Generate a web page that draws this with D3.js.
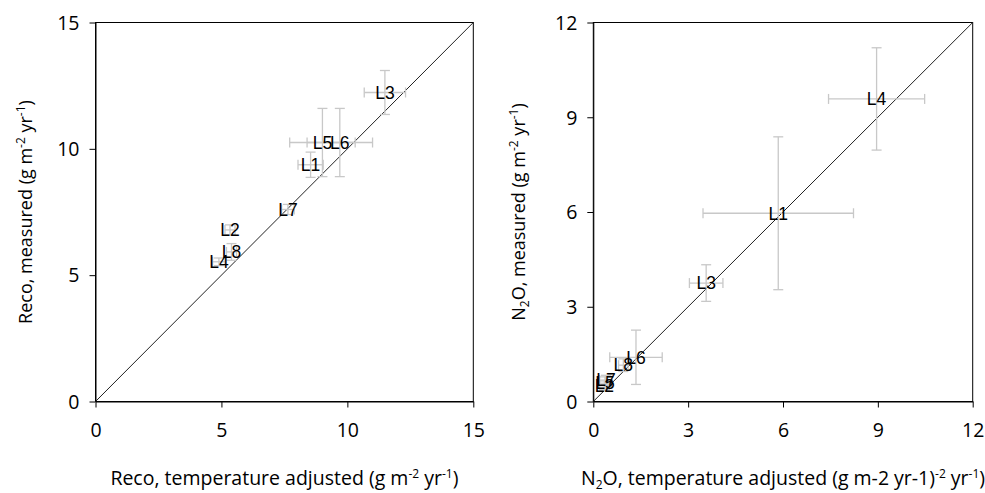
<!DOCTYPE html>
<html>
<head>
<meta charset="utf-8">
<style>
body { margin: 0; background: #fff; }
.tick text { font-family: "Open Sans", sans-serif; font-size: 19.5px; fill: #000; }
.atitle { font-family: "Open Sans", sans-serif; fill: #000; }
.site { font-family: "Liberation Sans", Arial, sans-serif; font-size: 17.5px; fill: #000; }
.err line { stroke: #c8c8c8; stroke-width: 1.3px; }
.diag { stroke: #222; stroke-width: 1px; }
</style>
</head>
<body>
<svg width="985" height="493"></svg>
<script src="https://d3js.org/d3.v7.min.js"></script>
<script>

// site labels
var sites = ["L1", "L2", "L3", "L4", "L5", "L6", "L7", "L8"];

// Reco, g m-2 yr-1
var recoAdj     = [8.54, 5.34, 11.49, 4.90, 9.01, 9.70, 7.64, 5.40];
var recoMeas    = [9.37, 6.79, 12.23, 5.53, 10.25, 10.25, 7.60, 5.92];
var recoAdjErr  = [0.50, 0.20, 0.82, 0.25, 1.30, 1.30, 0.25, 0.20];
var recoMeasErr = [0.50, 0.20, 0.87, 0.15, 1.35, 1.35, 0.20, 0.33];
var recoTicks   = [0, 5, 10, 15];

// N2O
var n2oAdj     = [5.85, 0.35, 3.57, 8.96, 0.37, 1.35, 0.40, 0.95];
var n2oMeas    = [5.96, 0.50, 3.75, 9.58, 0.58, 1.40, 0.68, 1.15];
var n2oAdjErr  = [2.38, 0.15, 0.53, 1.52, 0.20, 0.83, 0.20, 0.15];
var n2oMeasErr = [2.42, 0.15, 0.58, 1.62, 0.20, 0.86, 0.15, 0.20];
var n2oTicks   = [0, 3, 6, 9, 12];

var svg = d3.select("svg");

function panel(opt) {
  var x = d3.scaleLinear().domain([0, opt.max]).range([opt.x0, opt.x1]);
  var y = d3.scaleLinear().domain([0, opt.max]).range([opt.y0, opt.y1]);
  var g = svg.append("g");

  var rows = sites.map(function(s, i) {
    return {name: s, x: opt.xs[i], y: opt.ys[i], ex: opt.xe[i], ey: opt.ye[i]};
  });

  // frame
  g.append("rect")
      .attr("x", opt.x0).attr("y", opt.y1)
      .attr("width", opt.x1 - opt.x0).attr("height", opt.y0 - opt.y1)
      .attr("fill", "none").attr("stroke", "#000").attr("stroke-width", 1);

  var xAxis = g.append("g")
      .attr("transform", "translate(0," + opt.y0 + ")")
      .call(d3.axisBottom(x).tickValues(opt.ticks).tickSize(6).tickPadding(16).tickSizeOuter(0));
  var yAxis = g.append("g")
      .attr("transform", "translate(" + opt.x0 + ",0)")
      .call(d3.axisLeft(y).tickValues(opt.ticks).tickSize(6).tickPadding(10).tickSizeOuter(0));
  [xAxis, yAxis].forEach(function(a) {
    a.select(".domain").attr("stroke", "#000");
    a.selectAll(".tick line").attr("stroke", "#000");
  });
  yAxis.selectAll(".tick text").attr("dy", "0.35em");

  // 1:1 line
  g.append("line").attr("class", "diag")
      .attr("x1", x(0)).attr("y1", y(0))
      .attr("x2", x(opt.max)).attr("y2", y(opt.max));

  // error bars
  var cap = 5;
  var err = g.append("g").attr("class", "err")
    .selectAll("g").data(rows).enter().append("g");
  err.append("line")
      .attr("x1", function(d) { return x(d.x - d.ex); })
      .attr("x2", function(d) { return x(d.x + d.ex); })
      .attr("y1", function(d) { return y(d.y); })
      .attr("y2", function(d) { return y(d.y); });
  err.append("line")
      .attr("x1", function(d) { return x(d.x); })
      .attr("x2", function(d) { return x(d.x); })
      .attr("y1", function(d) { return y(d.y - d.ey); })
      .attr("y2", function(d) { return y(d.y + d.ey); });
  [-1, 1].forEach(function(s) {
    err.append("line")
        .attr("x1", function(d) { return x(d.x + s * d.ex); })
        .attr("x2", function(d) { return x(d.x + s * d.ex); })
        .attr("y1", function(d) { return y(d.y) - cap; })
        .attr("y2", function(d) { return y(d.y) + cap; });
    err.append("line")
        .attr("x1", function(d) { return x(d.x) - cap; })
        .attr("x2", function(d) { return x(d.x) + cap; })
        .attr("y1", function(d) { return y(d.y + s * d.ey); })
        .attr("y2", function(d) { return y(d.y + s * d.ey); });
  });

  g.append("g").selectAll("text").data(rows).enter().append("text")
      .attr("class", "site")
      .attr("x", function(d) { return x(d.x); })
      .attr("y", function(d) { return y(d.y); })
      .attr("dy", "0.36em")
      .attr("text-anchor", "middle")
      .text(function(d) { return d.name; });

  // axis titles
  var xt = g.append("text").attr("class", "atitle")
      .style("font-size", "19.5px")
      .attr("x", (opt.x0 + opt.x1) / 2).attr("y", 485)
      .attr("text-anchor", "middle");
  addParts(xt, opt.xtitle);
  var yt = g.append("text").attr("class", "atitle")
      .style("font-size", "18px")
      .attr("transform", "translate(" + opt.ytx + "," + ((opt.y0 + opt.y1) / 2) + ") rotate(-90)")
      .attr("text-anchor", "middle");
  addParts(yt, opt.ytitle);
}

// parts: [text, kind] kind: "" normal, "sup", "sub"
function addParts(t, parts) {
  var shift = 0;
  parts.forEach(function(p) {
    var target = p[1] === "sup" ? -7 : p[1] === "sub" ? 4 : 0;
    t.append("tspan")
        .attr("dy", target - shift)
        .style("font-size", p[1] ? "12px" : null)
        .text(p[0]);
    shift = target;
  });
}

panel({
  x0: 95.5, x1: 473.3, y0: 401.5, y1: 22.5, max: 15, ticks: recoTicks,
  xs: recoAdj, ys: recoMeas, xe: recoAdjErr, ye: recoMeasErr, ytx: 32,
  xtitle: [["Reco, temperature adjusted (g m", ""], ["-2", "sup"], [" yr", ""], ["-1", "sup"], [")", ""]],
  ytitle: [["Reco, measured (g m", ""], ["-2", "sup"], [" yr", ""], ["-1", "sup"], [")", ""]]
});

panel({
  x0: 593.3, x1: 972.7, y0: 401.5, y1: 22.5, max: 12, ticks: n2oTicks,
  xs: n2oAdj, ys: n2oMeas, xe: n2oAdjErr, ye: n2oMeasErr, ytx: 525,
  xtitle: [["N", ""], ["2", "sub"], ["O, temperature adjusted (g m-2 yr-1)", ""], ["-2", "sup"], [" yr", ""], ["-1", "sup"], [")", ""]],
  ytitle: [["N", ""], ["2", "sub"], ["O, measured (g m", ""], ["-2", "sup"], [" yr", ""], ["-1", "sup"], [")", ""]]
});

</script>
</body>
</html>
